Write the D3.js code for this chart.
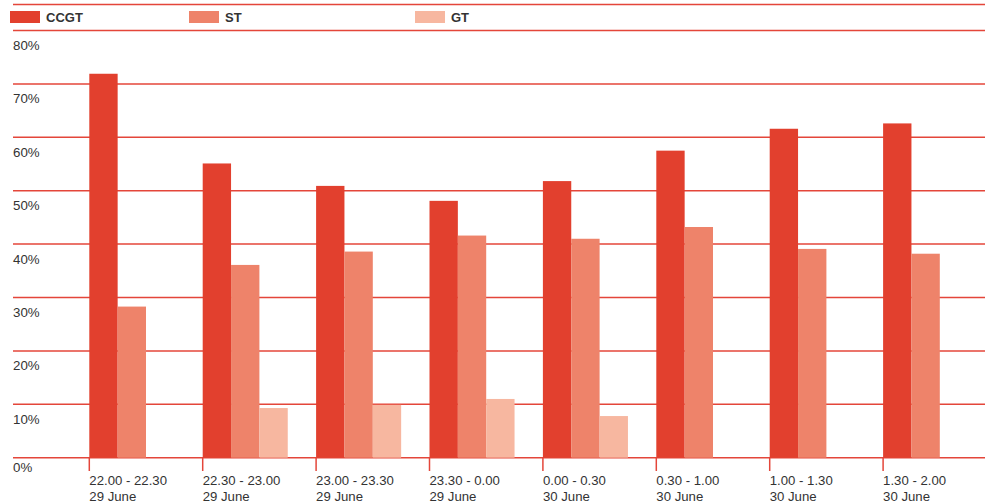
<!DOCTYPE html>
<html>
<head>
<meta charset="utf-8">
<script src="https://cdn.jsdelivr.net/npm/d3@7"></script>
<style>
  html, body { margin: 0; padding: 0; background: #fff; }
  svg { display: block; font-family: "Liberation Sans", Arial, Helvetica, sans-serif; }
</style>
</head>
<body>
<svg id="chart" width="985" height="504"></svg>
<script>
// Half-hour periods on the night of 29-30 June
const periods = ["22.00 - 22.30", "22.30 - 23.00", "23.00 - 23.30", "23.30 - 0.00",
                 "0.00 - 0.30", "0.30 - 1.00", "1.00 - 1.30", "1.30 - 2.00"];
const dates = ["29 June", "29 June", "29 June", "29 June",
               "30 June", "30 June", "30 June", "30 June"];

// Share of each plant type (%), null where no bar is drawn
const ccgt = [71.9, 55.1, 50.9, 48.1, 51.8, 57.5, 61.6, 62.6];
const st   = [28.3, 36.1, 38.6, 41.6, 41.0, 43.2, 39.1, 38.2];
const gt   = [null, 9.3, 9.9, 11.0, 7.8, null, null, null];

const seriesNames = ["CCGT", "ST", "GT"];
const seriesColors = ["#e2402e", "#ee836a", "#f7b7a0"];
const yTicks = [0, 10, 20, 30, 40, 50, 60, 70, 80];

const svg = d3.select("#chart");
const lineColor = "#e4463a";
const textColor = "#333";

const y = d3.scaleLinear().domain([0, 80]).range([457.7, 30.5]);
const x = d3.scaleBand().domain(periods).range([89.3, 996.5]).paddingInner(0).paddingOuter(0);
const xSub = d3.scaleBand().domain(seriesNames).range([0, x.bandwidth() * 0.75]);

// Legend frame line at the very top
svg.append("line")
  .attr("x1", 13).attr("x2", 985).attr("y1", 4.5).attr("y2", 4.5)
  .attr("stroke", lineColor).attr("stroke-width", 1.5);

// Legend entries
const legendX = [10, 189, 415];
const legend = svg.append("g").selectAll("g").data(seriesNames).join("g")
  .attr("transform", (d, i) => `translate(${legendX[i]},0)`);
legend.append("rect")
  .attr("x", 0).attr("y", 11).attr("width", 30).attr("height", 12)
  .attr("fill", (d, i) => seriesColors[i]);
legend.append("text")
  .attr("x", 36).attr("y", 21.8)
  .attr("font-family", "'Liberation Sans Narrow', 'Liberation Sans', Arial, sans-serif")
  .attr("font-size", 13).attr("font-weight", "bold").attr("fill", textColor)
  .text(d => d);

// Horizontal gridlines with percentage labels beneath each line
const grid = svg.append("g");
grid.selectAll("line").data(yTicks).join("line")
  .attr("x1", 13).attr("x2", 985)
  .attr("y1", d => y(d)).attr("y2", d => y(d))
  .attr("stroke", lineColor).attr("stroke-width", 1.5);
grid.selectAll("text").data(yTicks).join("text")
  .attr("x", 13)
  .attr("y", d => y(d) + (d === 0 ? 14.5 : 19.5))
  .attr("font-size", 13.3).attr("fill", textColor)
  .text(d => d + "%");

// Bars
const rows = periods.map((p, i) => ({ period: p, values: [ccgt[i], st[i], gt[i]] }));
const groups = svg.append("g").selectAll("g").data(rows).join("g")
  .attr("transform", d => `translate(${x(d.period)},0)`);
groups.selectAll("rect")
  .data(d => d.values.map((v, j) => ({ key: seriesNames[j], value: v, color: seriesColors[j] }))
                     .filter(e => e.value != null))
  .join("rect")
  .attr("x", d => xSub(d.key))
  .attr("width", xSub.bandwidth())
  .attr("y", d => y(d.value))
  .attr("height", d => y(0) - y(d.value))
  .attr("fill", d => d.color);

// Category ticks and two-line labels
const xAxis = svg.append("g");
xAxis.selectAll("line").data(periods).join("line")
  .attr("x1", d => x(d)).attr("x2", d => x(d))
  .attr("y1", y(0)).attr("y2", 471)
  .attr("stroke", lineColor).attr("stroke-width", 1.5);
const lbl = xAxis.selectAll("text").data(periods).join("text")
  .attr("x", d => x(d))
  .attr("font-size", 13.2).attr("fill", textColor);
lbl.append("tspan").attr("x", d => x(d)).attr("y", 485).text(d => d);
lbl.append("tspan").attr("x", d => x(d)).attr("y", 501).text((d, i) => dates[i]);
</script>
</body>
</html>
